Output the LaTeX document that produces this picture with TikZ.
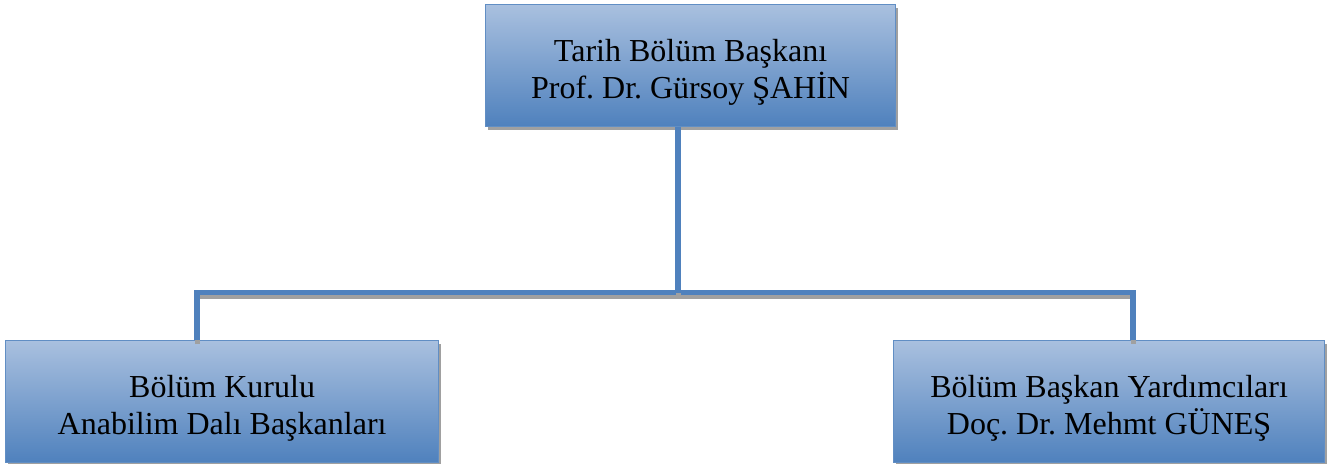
\documentclass[tikz,border=0pt]{standalone}
\usepackage{fontspec}
\setmainfont{Liberation Serif}
\usetikzlibrary{shadows}
\definecolor{boxtop}{HTML}{A9C0DF}
\definecolor{boxbot}{HTML}{4F81BD}
\definecolor{lineblue}{HTML}{4F81BD}
\definecolor{shgray}{HTML}{A0A0A0}
\newcommand{\lowerstrut}{\rule{0pt}{35pt}}
\tikzset{
  orgbox/.style={draw=boxbot!90!white, line width=1.2pt, top color=boxtop, bottom color=boxbot,
    minimum height=122pt, align=center, inner sep=0pt,
    font=\fontsize{32}{37}\selectfont\frenchspacing, text=black,
    drop shadow={shadow xshift=2.5pt, shadow yshift=-3pt, fill=shgray, opacity=1}},
  conn/.style={draw=lineblue, line width=5.5pt, preaction={draw=shgray, line width=5pt, transform canvas={xshift=0.5pt,yshift=-4pt}}}
}
\begin{document}
\begin{tikzpicture}[x=1pt,y=-1pt]
\useasboundingbox (0,0) rectangle (1327,463);
\node[orgbox, minimum width=410pt, anchor=north west] (top) at (485,4) {\lowerstrut Tarih Bölüm Başkanı\\Prof. Dr. Gürsoy ŞAHİN};
\node[orgbox, minimum width=433pt, anchor=north west] (left) at (5,340) {\lowerstrut Bölüm Kurulu\\Anabilim Dalı Başkanları};
\node[orgbox, minimum width=431pt, anchor=north west] (right) at (893,340) {\lowerstrut Bölüm Başkan Yardımcıları\\Doç. Dr. Mehmt GÜNEŞ};
\coordinate (hl) at (197,292.5);
\coordinate (hr) at (1133,292.5);
\coordinate (hm) at (678,292.5);
\draw[conn] (left.north -| hl) -- (hl) -- (hr) -- (right.north -| hr);
\draw[conn] (top.south -| hm) -- (hm);
\end{tikzpicture}
\end{document}
